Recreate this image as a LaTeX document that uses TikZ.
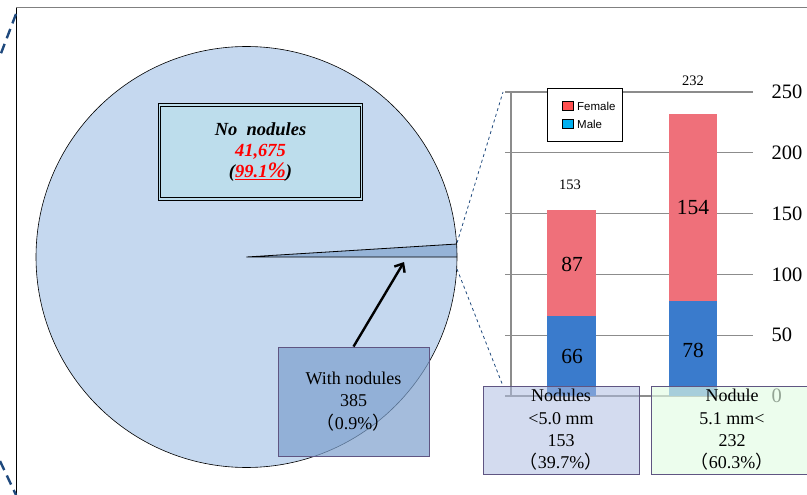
\documentclass[tikz,border=0pt]{standalone}
\usepackage{fontspec}
\setmainfont{Liberation Serif}
\setsansfont{Liberation Sans}
\newfontfamily\cjk{Noto Sans CJK JP}
\usetikzlibrary{arrows.meta}

\definecolor{piefill}{RGB}{197,216,239}
\definecolor{slicefill}{RGB}{149,179,215}
\definecolor{noboxfill}{RGB}{189,221,236}
\definecolor{withfill}{RGB}{125,160,205}
\definecolor{smallfill}{RGB}{175,190,225}
\definecolor{largefill}{RGB}{226,252,228}
\definecolor{boxedge}{RGB}{95,85,130}
\definecolor{femalebar}{RGB}{239,112,122}
\definecolor{malebar}{RGB}{58,123,204}
\definecolor{femalekey}{RGB}{255,80,80}
\definecolor{malekey}{RGB}{0,176,240}
\definecolor{gridgray}{RGB}{140,140,140}
\definecolor{zoomblue}{RGB}{31,73,125}

\newcommand{\fwl}{{\cjk （}}
\newcommand{\fwr}{{\cjk ）}}

\begin{document}
\begin{tikzpicture}[x=1pt,y=-1pt,
    infobox/.style={draw=boxedge,line width=0.8pt,align=center,inner sep=0pt,
        font=\fontsize{18}{22.3}\selectfont},
    barlabel/.style={font=\fontsize{21.5}{21.5}\selectfont},
    totallabel/.style={font=\fontsize{14.5}{14.5}\selectfont},
    ticklabel/.style={anchor=west,font=\fontsize{20.5}{20.5}\selectfont},
    keybox/.style={draw=black,line width=0.4pt,minimum width=11pt,minimum height=9pt,inner sep=0pt},
    keytext/.style={anchor=west,inner sep=0pt,font=\sffamily\fontsize{11.5}{12}\selectfont},
    zoomline/.style={draw=zoomblue,dashed,line width=0.8pt},
    frameline/.style={draw=zoomblue,line width=2.4pt,dash pattern=on 10pt off 6pt}]

\useasboundingbox (0,0) rectangle (807,495);

% frame
\draw[gray,line width=1pt] (16,8) -- (810,8);
\draw[black,line width=0.8pt] (16,8) -- (16,500);
\coordinate (fa) at (16,14);
\coordinate (fb) at (0,56);
\coordinate (fc) at (0,461);
\coordinate (fd) at (16,495);
\draw[frameline] (fa) -- (fb);
\draw[frameline] (fc) -- (fd);

% pie
\coordinate (c) at (246.5,257);
\coordinate (s1) at (457,244);
\coordinate (s2) at (457,257);
\fill[piefill] (c) circle (210.5pt);
\fill[slicefill] (c) -- (s2) -- (s1) -- cycle;
\draw[line width=0.8pt] (s1) -- (c) -- (s2);
\draw[line width=0.6pt] (c) circle (210.5pt);

% zoom lines
\coordinate (z1) at (457,243);
\coordinate (z2) at (457,269);
\coordinate (t1) at (503,92);
\coordinate (t2) at (503,386);
\draw[zoomline] (z1) -- (t1);
\draw[zoomline] (z2) -- (t2);

\node[draw=black,double=noboxfill,line width=1pt,double distance=1.2pt,fill=noboxfill,
      minimum width=202pt,minimum height=94pt,align=center,
      font=\fontsize{18.5}{21}\selectfont\bfseries\itshape] (no) at (260.5,152)
      {No\ \ nodules\\ \textcolor{red}{41,675}\\ (\textcolor{red}{\underline{99.1{\fontsize{22}{22}\selectfont\%}}})};

% chart
\foreach \v in {0,50,...,250}
    \draw[gridgray,line width=1.4pt] (505,396-1.216*\v) -- (753,396-1.216*\v);
\draw[gridgray,line width=1.4pt] (511,92) -- (511,396);
\foreach \v in {0,50,...,250}
    \node[ticklabel] (tick\v) at (768,396-1.216*\v) {\v};

\fill[malebar] (547,396) rectangle (596,315.7);
\fill[femalebar] (547,315.7) rectangle (596,210);
\fill[malebar] (669,396) rectangle (717,301);
\fill[femalebar] (669,301) rectangle (717,114);

\node[barlabel] (m1) at (572,356) {66};
\node[barlabel] (f1) at (572,264) {87};
\node[barlabel] (m2) at (693,350) {78};
\node[barlabel] (f2) at (693,208) {154};
\node[totallabel] (n1) at (570,185) {153};
\node[totallabel] (n2) at (693,81) {232};

\node[draw=black,fill=white,line width=0.6pt,minimum width=75pt,minimum height=53pt,inner sep=0pt] (key) at (584.5,114.5) {};
\node[keybox,fill=femalekey] (kf) at (568,106) {};
\node[keybox,fill=malekey] (km) at (568,124) {};
\node[keytext] (kft) at (577,106) {Female};
\node[keytext] (kmt) at (577,124) {Male};

% boxes
\node[infobox,fill=withfill,fill opacity=0.7,text opacity=1,
      minimum width=151pt,minimum height=109pt] (wn) at (353.5,401.5)
      {With nodules\\ 385\\ \fwl 0.9\%\fwr};
\coordinate (tip) at (404,262);
\draw[line width=2.4pt,-{Straight Barb[length=7pt,width=12pt]}] (wn.north) -- (tip);

\node[infobox,fill=smallfill,fill opacity=0.55,text opacity=1,
      minimum width=156pt,minimum height=88pt] (small) at (561,430)
      {Nodules\\ <5.0 mm\\ 153\\ \fwl 39.7\%\fwr};
\node[infobox,fill=largefill,fill opacity=0.65,text opacity=1,
      minimum width=162pt,minimum height=88pt] (large) at (732,430)
      {Nodule\\ 5.1 mm<\\ 232\\ \fwl 60.3\%\fwr};

\end{tikzpicture}
\end{document}
